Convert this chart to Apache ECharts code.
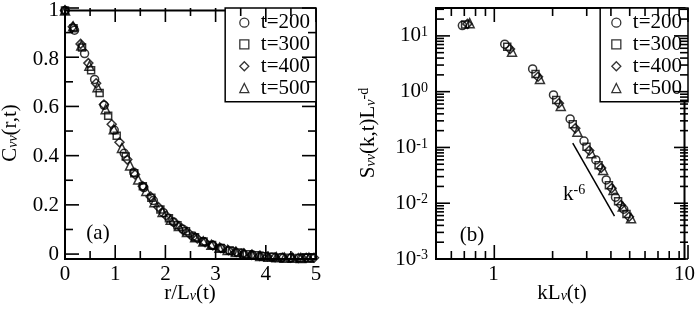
<!DOCTYPE html>
<html><head><meta charset="utf-8">
<script src="https://cdn.jsdelivr.net/npm/echarts@6/dist/echarts.min.js"></script>
<style>
html,body{margin:0;padding:0;background:#fff}
#wrap{position:relative;width:698px;height:313px}
#c,#t{position:absolute;left:0;top:0;width:698px;height:313px}
#t{pointer-events:none}
</style>
</head><body><div id="wrap"><div id="c"></div><div id="t"></div></div>
<script>
// ---------- data ----------
const seriesNames = ['t=200', 't=300', 't=400', 't=500'];
const seriesSymbols = ['circle', 'rect', 'diamond', 'triangle'];

// panel (a): C_vv(r,t) vs r/L_v(t)
const corr200 = [[0,1],[0.19,0.919],[0.39,0.823],[0.59,0.717],[0.78,0.611],[0.98,0.509],[1.18,0.414],[1.37,0.336],[1.57,0.273],[1.76,0.220],[1.96,0.170],[2.16,0.132],[2.35,0.102],[2.55,0.074],[2.75,0.052],[2.94,0.036],[3.14,0.023],[3.33,0.012],[3.53,0.004],[3.73,-0.003],[3.92,-0.008],[4.12,-0.012],[4.31,-0.014],[4.51,-0.015],[4.71,-0.016],[4.90,-0.015]];
const corr300 = [[0,1],[0.17,0.927],[0.34,0.848],[0.52,0.755],[0.69,0.661],[0.86,0.568],[1.03,0.486],[1.21,0.401],[1.38,0.332],[1.55,0.279],[1.72,0.231],[1.90,0.183],[2.07,0.147],[2.24,0.119],[2.41,0.094],[2.59,0.069],[2.76,0.052],[2.93,0.037],[3.10,0.025],[3.28,0.015],[3.45,0.007],[3.62,0.000],[3.79,-0.005],[3.97,-0.009],[4.14,-0.012],[4.31,-0.014],[4.48,-0.015],[4.66,-0.016],[4.83,-0.015]];
const corr400 = [[0,1],[0.155,0.933],[0.31,0.863],[0.465,0.784],[0.62,0.701],[0.775,0.614],[0.93,0.533],[1.085,0.459],[1.24,0.388],[1.395,0.327],[1.55,0.279],[1.705,0.236],[1.86,0.193],[2.015,0.158],[2.17,0.130],[2.325,0.106],[2.48,0.083],[2.635,0.064],[2.79,0.049],[2.945,0.036],[3.10,0.025],[3.255,0.016],[3.41,0.009],[3.565,0.002],[3.72,-0.003],[3.875,-0.007],[4.03,-0.010],[4.185,-0.013],[4.34,-0.014],[4.495,-0.015],[4.65,-0.016],[4.805,-0.015],[4.96,-0.015]];
const corr500 = [[0,1],[0.162,0.935],[0.324,0.856],[0.486,0.773],[0.648,0.685],[0.81,0.595],[0.972,0.513],[1.134,0.436],[1.296,0.364],[1.458,0.306],[1.62,0.259],[1.782,0.213],[1.944,0.173],[2.106,0.141],[2.268,0.115],[2.43,0.091],[2.592,0.069],[2.754,0.052],[2.916,0.038],[3.078,0.026],[3.24,0.017],[3.402,0.009],[3.564,0.002],[3.726,-0.003],[3.888,-0.008],[4.05,-0.011],[4.212,-0.013],[4.374,-0.015],[4.536,-0.015],[4.698,-0.016],[4.86,-0.015]];

// panel (b): S_vv(k,t) L_v^-d vs k L_v(t)
const struct200 = [[0.687,15.3],[1.145,7.1],[1.603,2.56],[2.061,0.875],[2.519,0.324],[2.977,0.130],[3.435,0.0597],[3.893,0.0261],[4.351,0.0128],[4.809,0.0078]];
const struct300 = [[0.71,16.0],[1.18,6.4],[1.66,2.08],[2.13,0.71],[2.60,0.26],[3.07,0.103],[3.55,0.048],[4.02,0.021],[4.49,0.0108],[4.97,0.0064]];
const struct400 = [[0.73,16.4],[1.22,5.8],[1.71,1.85],[2.20,0.62],[2.68,0.22],[3.17,0.088],[3.66,0.043],[4.15,0.0185],[4.64,0.0093],[5.12,0.0057]];
const struct500 = [[0.75,16.9],[1.25,5.2],[1.75,1.69],[2.25,0.555],[2.75,0.192],[3.25,0.0787],[3.75,0.0394],[4.25,0.0173],[4.75,0.0087],[5.25,0.0054]];
const slopeLine = [[2.6,0.12],[4.3,0.00585]];

// ticks
const aXMajor = [0,1,2,3,4,5];
const aXMinor = [0.5,1.5,2.5,3.5,4.5];
const aYMajor = [0,0.2,0.4,0.6,0.8,1];
const aYMinor = [0.1,0.3,0.5,0.7,0.9];
const bXMajor = [1,10];
const bXMinor = [0.6,0.7,0.8,0.9,2,3,4,5,6,7,8,9];
const bYMajor = [0.001,0.01,0.1,1,10];
const bYMinor = [0.002,0.003,0.004,0.005,0.006,0.007,0.008,0.009,0.02,0.03,0.04,0.05,0.06,0.07,0.08,0.09,0.2,0.3,0.4,0.5,0.6,0.7,0.8,0.9,2,3,4,5,6,7,8,9,20,30];

// ---------- shared layout ----------
const FONT = 'Liberation Serif';
const aRange = {x: [0, 5], y: [-0.02, 1]};
const bRange = {x: [0.5, 10], y: [0.001, 31.62]};
const gridBoxes = [
  {left: 65, top: 8, width: 251, height: 251},
  {left: 436, top: 8, width: 252, height: 251}
];

// ---------- main chart ----------
const chart = echarts.init(document.getElementById('c'), null, {renderer: 'canvas'});

const symSizes = [8, 7, 9, 9];
const corrData = [corr200, corr300, corr400, corr500];
const structData = [struct200, struct300, struct400, struct500];

const series = [];
corrData.forEach((d, i) => series.push({
  type: 'scatter', name: seriesNames[i], xAxisIndex: 0, yAxisIndex: 0, clip: false,
  symbol: seriesSymbols[i], symbolSize: symSizes[i], data: d, z: 3,
  itemStyle: {color: 'rgba(255,255,255,0)', borderColor: '#000', borderWidth: 1.5}
}));
structData.forEach((d, i) => series.push({
  type: 'scatter', name: seriesNames[i], xAxisIndex: 1, yAxisIndex: 1, clip: false,
  symbol: seriesSymbols[i], symbolSize: symSizes[i], data: d, z: 3,
  itemStyle: {color: 'rgba(255,255,255,0)', borderColor: '#000', borderWidth: 1.5}
}));
series.push({
  type: 'line', xAxisIndex: 1, yAxisIndex: 1, data: slopeLine, symbol: 'none',
  lineStyle: {color: '#000', width: 1.5}, silent: true, z: 2
});

const lblBase = {color: '#000', fontFamily: FONT, fontSize: 21};
const supRich = {
  b: {color: '#000', fontFamily: FONT, fontSize: 21, lineHeight: 21, verticalAlign: 'bottom'},
  s: {color: '#000', fontFamily: FONT, fontSize: 14, lineHeight: 14, verticalAlign: 'top', padding: [0, 0, 10, 0]}
};
const subRich = {
  a: {color: '#000', fontFamily: FONT, fontSize: 21, lineHeight: 21, verticalAlign: 'top'},
  s: {color: '#000', fontFamily: FONT, fontSize: 14, lineHeight: 14, verticalAlign: 'bottom', fontStyle: 'italic', padding: [9, 0, 0, 0]},
  p: {color: '#000', fontFamily: FONT, fontSize: 14, lineHeight: 14, verticalAlign: 'top', padding: [0, 0, 16, 0]}
};

function isPow10(v) { const l = Math.log10(v); return Math.abs(l - Math.round(l)) < 1e-6; }

function legendAt(right, padLeft) {
  return {
    orient: 'vertical', right: right, top: 8, padding: [4, 6, 3, padLeft],
    itemWidth: 9, itemHeight: 9, itemGap: 0.5,
    borderColor: '#000', borderWidth: 1.5, backgroundColor: '#fff', selectedMode: false,
    textStyle: {fontSize: 21, fontFamily: FONT, color: '#000', lineHeight: 21.3, padding: [0, 0, 0, 7]},
    itemStyle: {color: 'rgba(255,255,255,0)', borderColor: '#000', borderWidth: 1.3},
    data: seriesNames.map((n, i) => ({name: n, icon: seriesSymbols[i]}))
  };
}

const textEls = [
  {type: 'text', x: 10, y: 133, rotation: Math.PI / 2, z: 10,
   style: {text: '{a|C}{s|νν}{a|(r,t)}', rich: subRich, align: 'center', verticalAlign: 'middle', textAlign: 'center', textVerticalAlign: 'middle'}},
  {type: 'text', x: 368, y: 133, rotation: Math.PI / 2, z: 10,
   style: {text: '{a|S}{s|νν}{a|(k,t)L}{s|ν}{p|-d}', rich: subRich, align: 'center', verticalAlign: 'middle', textAlign: 'center', textVerticalAlign: 'middle'}},
  {type: 'text', x: 190, y: 293, z: 10,
   style: {text: '{a|r/L}{s|ν}{a|(t)}', rich: subRich, align: 'center', verticalAlign: 'middle', textAlign: 'center', textVerticalAlign: 'middle'}},
  {type: 'text', x: 562, y: 293, z: 10,
   style: {text: '{a|kL}{s|ν}{a|(t)}', rich: subRich, align: 'center', verticalAlign: 'middle', textAlign: 'center', textVerticalAlign: 'middle'}},
  {type: 'text', x: 98, y: 233, z: 10,
   style: {text: '(a)', font: '21px "Liberation Serif"', fill: '#000', align: 'center', verticalAlign: 'middle', textAlign: 'center', textVerticalAlign: 'middle'}},
  {type: 'text', x: 472, y: 235, z: 10,
   style: {text: '(b)', font: '21px "Liberation Serif"', fill: '#000', align: 'center', verticalAlign: 'middle', textAlign: 'center', textVerticalAlign: 'middle'}},
  {type: 'text', x: 563, y: 194, z: 10,
   style: {text: '{b|k}{s|-6}', rich: supRich, align: 'left', verticalAlign: 'middle', textAlign: 'left', textVerticalAlign: 'middle'}}
];

const option = {
  animation: false,
  backgroundColor: '#fff',
  grid: gridBoxes.map(g => Object.assign({show: true, borderColor: '#000', borderWidth: 2, backgroundColor: 'transparent'}, g)),
  xAxis: [
    {type: 'value', gridIndex: 0, min: aRange.x[0], max: aRange.x[1], interval: 1,
     axisLine: {show: true, onZero: false, lineStyle: {color: '#000', width: 2}}, axisTick: {show: false},
     splitLine: {show: false}, axisLabel: Object.assign({margin: 5}, lblBase)},
    {type: 'log', gridIndex: 1, min: bRange.x[0], max: bRange.x[1], logBase: 10,
     axisLine: {show: true, onZero: false, lineStyle: {color: '#000', width: 2}}, axisTick: {show: false},
     splitLine: {show: false},
     axisLabel: Object.assign({margin: 5, showMinLabel: true, showMaxLabel: true,
       formatter: v => isPow10(v) ? String(Math.round(v)) : ''}, lblBase)}
  ],
  yAxis: [
    {type: 'value', gridIndex: 0, min: aRange.y[0], max: aRange.y[1],
     axisLine: {show: true, onZero: false, lineStyle: {color: '#000', width: 2}}, axisTick: {show: false},
     splitLine: {show: false},
     axisLabel: Object.assign({margin: 6,
       formatter: v => (v >= -1e-9 && Math.abs(v * 5 - Math.round(v * 5)) < 1e-6) ? String(+v.toFixed(1)) : ''}, lblBase)},
    {type: 'log', gridIndex: 1, min: bRange.y[0], max: bRange.y[1], logBase: 10,
     axisLine: {show: true, onZero: false, lineStyle: {color: '#000', width: 2}}, axisTick: {show: false},
     splitLine: {show: false},
     axisLabel: Object.assign({margin: 8,
       formatter: v => isPow10(v) && v < 20 ? '{b|10}{s|' + Math.round(Math.log10(v)) + '}' : '',
       rich: supRich}, lblBase)}
  ],
  legend: [legendAt(382, 14), legendAt(10, 11)],
  graphic: textEls,
  series: series
};
try { chart.setOption(option); } catch (e) { /* keep going */ }

// ---------- tick layer: a second, transparent ECharts instance with identical grids and axes ----------
const tickChart = echarts.init(document.getElementById('t'), null, {renderer: 'canvas'});
const TW = 1.6;
function tickSeries(ai, range, vals, isX, len) {
  const out = [];
  const edges = isX ? [[range.y[0], [0, -len / 2]], [range.y[1], [0, len / 2]]]
                    : [[range.x[0], [len / 2, 0]], [range.x[1], [-len / 2, 0]]];
  edges.forEach(([e, off]) => {
    out.push({
      type: 'scatter', xAxisIndex: ai, yAxisIndex: ai, silent: true, clip: false, z: 6,
      symbol: 'rect', symbolSize: isX ? [TW, len] : [len, TW], symbolOffset: off,
      itemStyle: {color: '#000', opacity: 1},
      data: vals.map(v => isX ? [v, e] : [e, v])
    });
  });
  return out;
}
const tickAxisCommon = {axisLine: {show: false}, axisTick: {show: false}, axisLabel: {show: false}, splitLine: {show: false}};
const tickOption = {
  animation: false,
  backgroundColor: 'transparent',
  grid: gridBoxes.map(g => Object.assign({show: false}, g)),
  xAxis: [
    Object.assign({type: 'value', gridIndex: 0, min: aRange.x[0], max: aRange.x[1]}, tickAxisCommon),
    Object.assign({type: 'log', gridIndex: 1, min: bRange.x[0], max: bRange.x[1], logBase: 10}, tickAxisCommon)
  ],
  yAxis: [
    Object.assign({type: 'value', gridIndex: 0, min: aRange.y[0], max: aRange.y[1]}, tickAxisCommon),
    Object.assign({type: 'log', gridIndex: 1, min: bRange.y[0], max: bRange.y[1], logBase: 10}, tickAxisCommon)
  ],
  series: [].concat(
    tickSeries(0, aRange, aXMajor, true, 14), tickSeries(0, aRange, aXMinor, true, 8),
    tickSeries(0, aRange, aYMajor, false, 14), tickSeries(0, aRange, aYMinor, false, 8),
    tickSeries(1, bRange, bXMajor, true, 14), tickSeries(1, bRange, bXMinor, true, 8),
    tickSeries(1, bRange, bYMajor, false, 14), tickSeries(1, bRange, bYMinor, false, 8)
  )
};
try { tickChart.setOption(tickOption); } catch (e) { /* keep going */ }
</script></body></html>
